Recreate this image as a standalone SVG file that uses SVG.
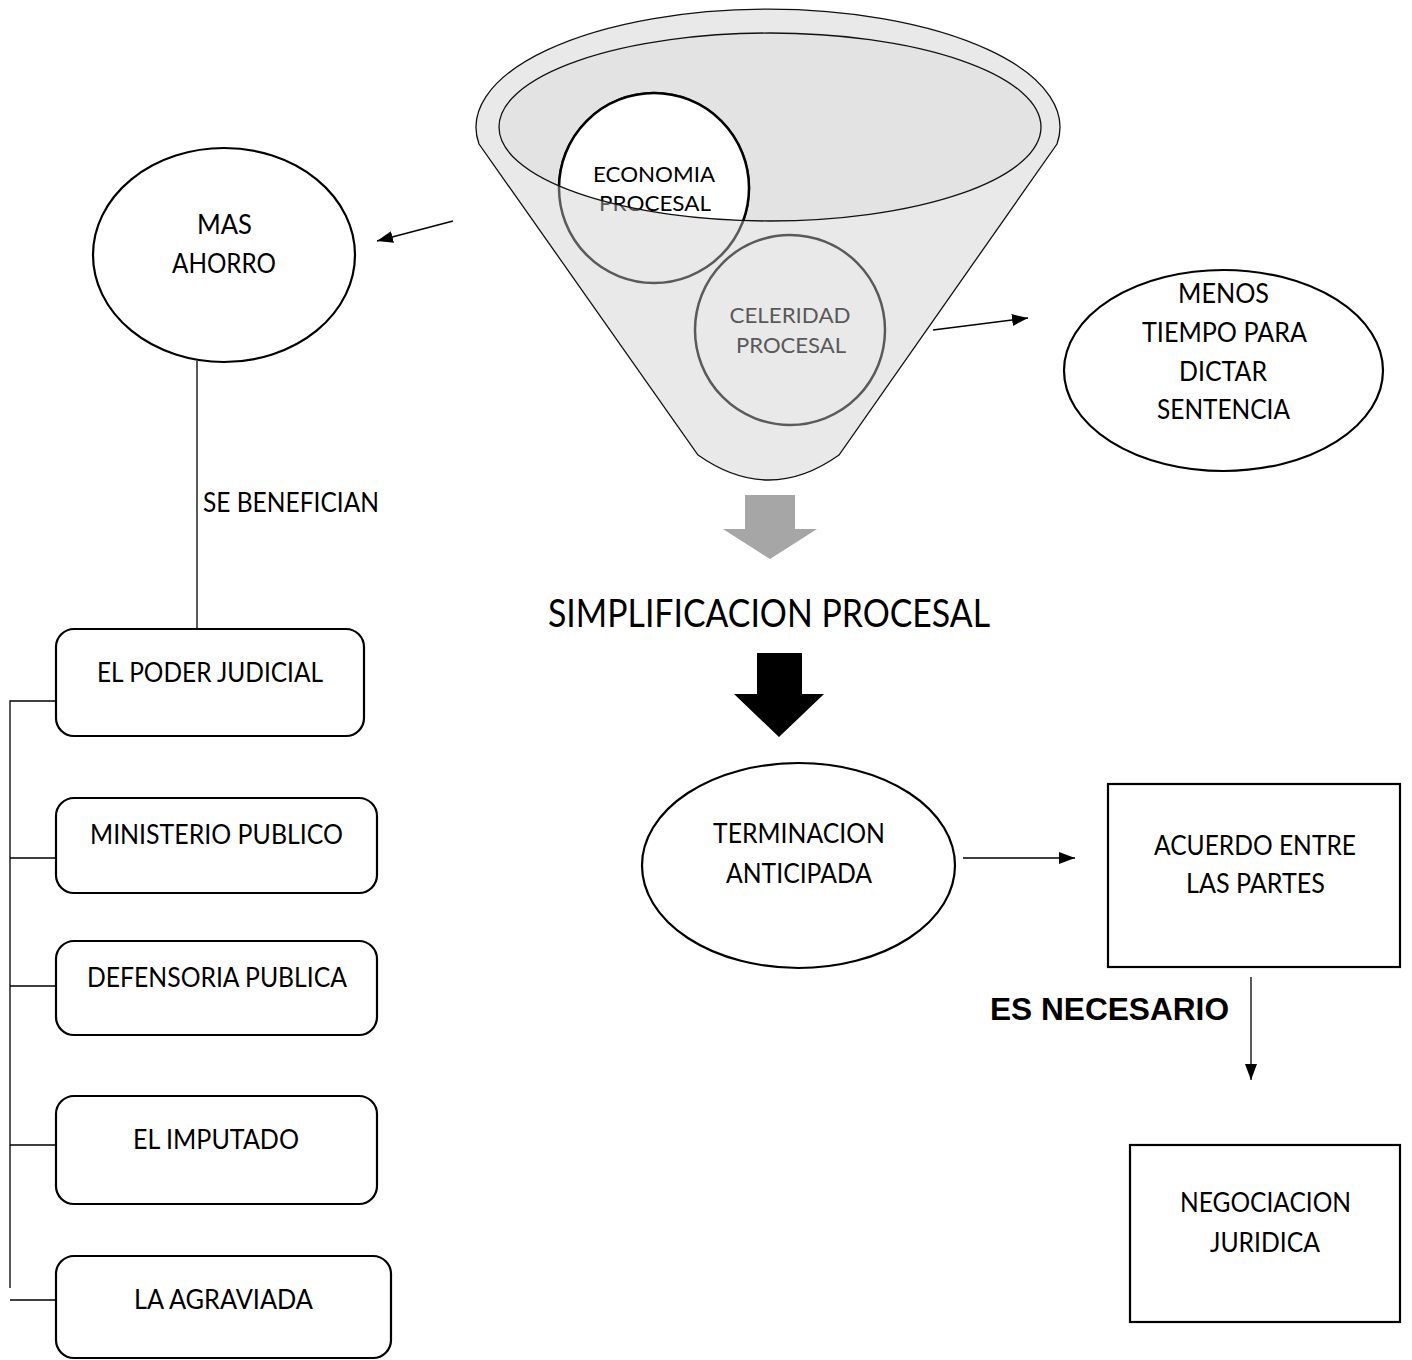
<svg xmlns="http://www.w3.org/2000/svg" width="1412" height="1360" viewBox="0 0 1412 1360">
<defs>
<style>
.t{font-family:Lato,"Open Sans","Liberation Sans",sans-serif;font-size:26px;fill:#000;text-anchor:middle}
.ts{font-size:22px}
.g{fill:#595959}
.node{fill:#fff;stroke:#000;stroke-width:2.2}
.con{fill:none;stroke:#000;stroke-width:1.3}
</style>
<marker id="ah" viewBox="0 0 16 12" refX="16" refY="6" markerWidth="16" markerHeight="12" markerUnits="userSpaceOnUse" orient="auto">
<path d="M0,0 L16,6 L0,12 Z" fill="#000"/>
</marker>
<clipPath id="inner"><ellipse cx="770" cy="127" rx="271" ry="94"/></clipPath>
</defs>
<rect width="1412" height="1360" fill="#fff"/>

<g id="funnel">
<path d="M479,144 A292,118 0 1,1 1057,144 L839,455 Q769,505 698,455 Z" fill="#e9e9e9" stroke="#111" stroke-width="1.3"/>
<ellipse cx="770" cy="127" rx="271" ry="94" fill="#e3e3e3" stroke="none"/>
</g>

<g id="economia">
<circle cx="654" cy="188" r="95" fill="none" stroke="#5a5a5a" stroke-width="2.5"/>
<text class="t ts g" x="654" y="182" textLength="122" lengthAdjust="spacingAndGlyphs">ECONOMIA</text>
<text class="t ts g" x="655" y="211" textLength="112" lengthAdjust="spacingAndGlyphs">PROCESAL</text>
<g clip-path="url(#inner)">
<circle cx="654" cy="188" r="95" fill="#fff" stroke="#000" stroke-width="2.5"/>
<text class="t ts" x="654" y="182" textLength="122" lengthAdjust="spacingAndGlyphs">ECONOMIA</text>
<text class="t ts" x="655" y="211" textLength="112" lengthAdjust="spacingAndGlyphs">PROCESAL</text>
</g>
</g>

<g id="rim">
<ellipse cx="770" cy="127" rx="271" ry="94" fill="none" stroke="#111" stroke-width="1.3"/>
</g>

<g id="celeridad">
<circle cx="790" cy="330" r="95" fill="none" stroke="#5a5a5a" stroke-width="2.5"/>
<text class="t ts g" x="790" y="323" textLength="121" lengthAdjust="spacingAndGlyphs">CELERIDAD</text>
<text class="t ts g" x="791" y="353" textLength="110" lengthAdjust="spacingAndGlyphs">PROCESAL</text>
</g>

<g id="mas-ahorro">
<ellipse class="node" cx="224" cy="255" rx="131" ry="107"/>
<text class="t" x="224.5" y="234" textLength="55" lengthAdjust="spacingAndGlyphs">MAS</text>
<text class="t" x="224" y="273" textLength="104" lengthAdjust="spacingAndGlyphs">AHORRO</text>
</g>

<g id="menos-tiempo">
<ellipse class="node" cx="1223.5" cy="370.5" rx="159.5" ry="100.5"/>
<text class="t" x="1223.5" y="303" textLength="91" lengthAdjust="spacingAndGlyphs">MENOS</text>
<text class="t" x="1224.5" y="342" textLength="165" lengthAdjust="spacingAndGlyphs">TIEMPO PARA</text>
<text class="t" x="1223" y="381" textLength="88" lengthAdjust="spacingAndGlyphs">DICTAR</text>
<text class="t" x="1223.5" y="419" textLength="133" lengthAdjust="spacingAndGlyphs">SENTENCIA</text>
</g>

<g id="simplificacion">
<polygon points="745,495 795,495 795,529 817,529 770,559 723,529 745,529" fill="#a6a6a6"/>
<text class="t" x="769" y="627" style="font-size:38px" textLength="442" lengthAdjust="spacingAndGlyphs">SIMPLIFICACION PROCESAL</text>
<polygon points="757,653 802,653 802,694 824,694 779,737 734,694 757,694" fill="#000"/>
</g>

<g id="terminacion">
<ellipse class="node" cx="798.5" cy="865.5" rx="156.5" ry="102.5"/>
<text class="t" x="799" y="843" textLength="172" lengthAdjust="spacingAndGlyphs">TERMINACION</text>
<text class="t" x="799" y="883" textLength="146" lengthAdjust="spacingAndGlyphs">ANTICIPADA</text>
</g>

<g id="acuerdo">
<rect class="node" x="1108" y="784" width="292" height="183"/>
<text class="t" x="1255" y="855" textLength="202" lengthAdjust="spacingAndGlyphs">ACUERDO ENTRE</text>
<text class="t" x="1255.5" y="893" textLength="139" lengthAdjust="spacingAndGlyphs">LAS PARTES</text>
</g>

<g id="negociacion">
<rect class="node" x="1130" y="1145" width="270" height="177"/>
<text class="t" x="1265.5" y="1212" textLength="171" lengthAdjust="spacingAndGlyphs">NEGOCIACION</text>
<text class="t" x="1265" y="1252" textLength="110" lengthAdjust="spacingAndGlyphs">JURIDICA</text>
</g>

<g id="poder-judicial">
<rect class="node" x="56" y="629" width="308" height="107" rx="18"/>
<text class="t" x="210" y="682" textLength="226" lengthAdjust="spacingAndGlyphs">EL PODER JUDICIAL</text>
</g>
<g id="ministerio-publico">
<rect class="node" x="56" y="798" width="321" height="95" rx="18"/>
<text class="t" x="216.5" y="844" textLength="253" lengthAdjust="spacingAndGlyphs">MINISTERIO PUBLICO</text>
</g>
<g id="defensoria-publica">
<rect class="node" x="56" y="941" width="321" height="94" rx="18"/>
<text class="t" x="217" y="987" textLength="260" lengthAdjust="spacingAndGlyphs">DEFENSORIA PUBLICA</text>
</g>
<g id="imputado">
<rect class="node" x="56" y="1096" width="321" height="108" rx="18"/>
<text class="t" x="216" y="1149" textLength="166" lengthAdjust="spacingAndGlyphs">EL IMPUTADO</text>
</g>
<g id="agraviada">
<rect class="node" x="56" y="1256" width="335" height="102" rx="18"/>
<text class="t" x="223.5" y="1309" textLength="179" lengthAdjust="spacingAndGlyphs">LA AGRAVIADA</text>
</g>

<g id="connectors">
<line class="con" x1="453" y1="221" x2="377" y2="241" marker-end="url(#ah)"/>
<line class="con" x1="933" y1="330" x2="1028" y2="318" marker-end="url(#ah)"/>
<line class="con" x1="197" y1="361" x2="197" y2="629"/>
<line class="con" x1="963" y1="858" x2="1075" y2="858" marker-end="url(#ah)"/>
<line class="con" x1="1251" y1="977" x2="1251" y2="1080" marker-end="url(#ah)"/>
<path class="con" d="M56,701 H10 V1288 M10,858 H56 M10,986 H56 M10,1145 H56 M10,1300 H56"/>
</g>

<g id="labels">
<text class="t" x="203" y="512" style="text-anchor:start" textLength="176" lengthAdjust="spacingAndGlyphs">SE BENEFICIAN</text>
<text x="1109.5" y="1020" style="font-family:'Liberation Sans',Arial,sans-serif;font-weight:bold;font-size:31px;text-anchor:middle" textLength="239" lengthAdjust="spacingAndGlyphs">ES NECESARIO</text>
</g>
</svg>
